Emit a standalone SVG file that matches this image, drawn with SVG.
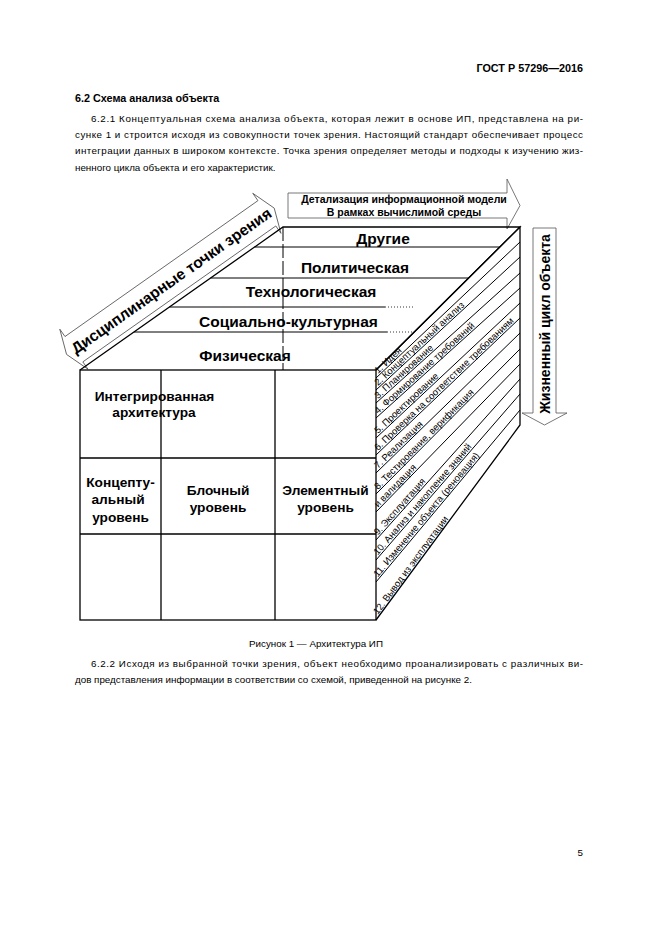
<svg xmlns="http://www.w3.org/2000/svg" width="661" height="935" viewBox="0 0 661 935">
<style>
text{font-family:"Liberation Sans",Arial,sans-serif;fill:#000}
.p{font-size:9.8px}
.hb{font-size:10.8px;font-weight:bold}
.b155{font-size:15.5px;font-weight:bold}
.b137{font-size:13.7px;font-weight:bold}
.b105{font-size:10.5px;font-weight:bold}
.b14{font-size:14px;font-weight:bold}
.h{font-size:9.5px}
.arrow{fill:#fff;stroke:#555;stroke-width:0.8}
.edge{stroke:#000;stroke-width:1.3;fill:none}
.thin{stroke:#000;stroke-width:1;fill:none}
.dot{stroke:#000;stroke-width:0.8;stroke-dasharray:1 2;fill:none}
</style>
<rect width="661" height="935" fill="#fff"/>

<g id="page-header">
<text x="583" y="72" class="hb" text-anchor="end">ГОСТ Р 57296—2016</text>
<text x="75" y="102" class="hb">6.2 Схема анализа объекта</text>
</g>

<g id="paragraph-621">
<text x="91" y="121.5" class="p" textLength="492">6.2.1 Концептуальная схема анализа объекта, которая лежит в основе ИП, представлена на ри-</text>
<text x="75" y="137.8" class="p" textLength="508">сунке 1 и строится исходя из совокупности точек зрения. Настоящий стандарт обеспечивает процесс</text>
<text x="75" y="154.3" class="p" textLength="508">интеграции данных в широком контексте. Точка зрения определяет методы и подходы к изучению жиз-</text>
<text x="75" y="170.7" class="p">ненного цикла объекта и его характеристик.</text>
</g>

<g id="figure-1">
<g id="arrow-disciplinary" transform="translate(80,370) rotate(-35.16)">
<polygon class="arrow" points="-2,-20.5 7,4 7,-5 243,-5 243,4 252,-20.5 243,-45 243,-36 7,-36 7,-45"/>
<text x="126" y="-15" class="b155" text-anchor="middle">Дисциплинарные точки зрения</text>
</g>

<g id="arrow-detail">
<polygon class="arrow" points="288,193 507,193 507,179 520,205.5 507,229 507,218 288,218"/>
<text x="404" y="203" class="b105" text-anchor="middle">Детализация информационной модели</text>
<text x="404" y="215.5" class="b105" text-anchor="middle">В рамках вычислимой среды</text>
</g>

<g id="arrow-lifecycle">
<polygon class="arrow" points="533,228 556,228 556,413 567,413 544.5,425 522,413 533,413"/>
<text transform="translate(549.5,324) rotate(-90)" class="b14" text-anchor="middle">Жизненный цикл объекта</text>
</g>

<g id="cube-top">
<polyline class="edge" points="80,370 283,227 520,227 376,370"/>
<line class="thin" x1="283" y1="227" x2="283" y2="370" stroke-dasharray="14 3"/>
<line class="thin" x1="254.6" y1="247" x2="499.9" y2="247"/>
<line class="thin" x1="210.6" y1="278" x2="468.6" y2="278"/>
<line class="thin" x1="169.4" y1="307" x2="385" y2="307"/>
<line class="dot" x1="385" y1="307" x2="415" y2="307"/>
<line class="thin" x1="133.9" y1="332" x2="387" y2="332"/>
<line class="dot" x1="387" y1="332" x2="414" y2="332"/>
<text x="383" y="243.5" class="b155" text-anchor="middle">Другие</text>
<text x="355" y="272.5" class="b155" text-anchor="middle">Политическая</text>
<text x="311" y="296.5" class="b155" text-anchor="middle">Технологическая</text>
<text x="288.5" y="326.5" class="b155" text-anchor="middle">Социально-культурная</text>
<text x="245" y="361" class="b155" text-anchor="middle">Физическая</text>
</g>

<g id="cube-front">
<rect class="edge" x="80" y="370" width="296" height="250"/>
<line class="edge" x1="161" y1="370" x2="161" y2="620"/>
<line class="edge" x1="275" y1="370" x2="275" y2="620"/>
<line class="edge" x1="80" y1="458" x2="376" y2="458"/>
<line class="edge" x1="80" y1="534" x2="376" y2="534"/>
<text x="154.5" y="401.4" class="b137" text-anchor="middle">Интегрированная</text>
<text x="154" y="417.3" class="b137" text-anchor="middle">архитектура</text>
<text x="120.5" y="486.7" class="b137" text-anchor="middle">Концепту-</text>
<text x="118" y="504.2" class="b137" text-anchor="middle">альный</text>
<text x="120.5" y="521.7" class="b137" text-anchor="middle">уровень</text>
<text x="218" y="494.7" class="b137" text-anchor="middle">Блочный</text>
<text x="218" y="512.4" class="b137" text-anchor="middle">уровень</text>
<text x="325.5" y="494.7" class="b137" text-anchor="middle">Элементный</text>
<text x="325.5" y="512.4" class="b137" text-anchor="middle">уровень</text>
</g>

<g id="cube-side">
<polyline class="edge" points="376,370 520,227 520,425 376,620"/>
<line class="thin" x1="376" y1="378" x2="520" y2="242"/>
<line class="thin" x1="376" y1="390" x2="520" y2="257"/>
<line class="thin" x1="376" y1="403" x2="520" y2="273"/>
<line class="thin" x1="376" y1="418" x2="520" y2="288"/>
<line class="thin" x1="376" y1="438" x2="520" y2="303"/>
<line class="thin" x1="376" y1="455" x2="520" y2="318"/>
<line class="thin" x1="376" y1="473" x2="520" y2="333"/>
<line class="thin" x1="376" y1="494" x2="520" y2="349"/>
<line class="thin" x1="376" y1="512" x2="520" y2="364"/>
<line class="thin" x1="376" y1="540" x2="520" y2="379"/>
<line class="thin" x1="376" y1="560" x2="520" y2="394"/>
<line class="thin" x1="376" y1="582" x2="520" y2="410"/>
<text class="h" transform="translate(379,375.2) rotate(-43.36)" y="-1.5">1. Идея</text>
<text class="h" transform="translate(379,387.2) rotate(-42.72)" y="-1.5">2. Концептуальный анализ</text>
<text class="h" transform="translate(379,400.3) rotate(-42.07)" y="-1.5">3. Планирование</text>
<text class="h" transform="translate(379,415.3) rotate(-42.07)" y="-1.5">4. Формирование требований</text>
<text class="h" transform="translate(379,435.2) rotate(-43.15)" y="-1.5">5. Проектирование</text>
<text class="h" transform="translate(379,452.1) rotate(-43.57)" y="-1.5">6. Проверка на соответствие требованиям</text>
<text class="h" transform="translate(379,470.1) rotate(-44.19)" y="-1.5">7. Реализация</text>
<text class="h" transform="translate(379,491) rotate(-45.2)" y="-1.5">8. Тестирование, верификация</text>
<text class="h" transform="translate(379,508.9) rotate(-45.78)" y="-1.5">и валидация</text>
<text class="h" transform="translate(379,536.6) rotate(-48.19)" y="-1.5">9. Эксплуатация</text>
<text class="h" transform="translate(379,556.5) rotate(-49.06)" y="-1.5">10. Анализ и накопление знаний</text>
<text class="h" transform="translate(379,578.4) rotate(-50.06)" y="-1.5">11. Изменение объекта (реновация)</text>
<text class="h" transform="translate(379,615.9) rotate(-53.56)" y="-1.5">12. Вывод из эксплуатации</text>
</g>
</g>

<g id="caption">
<text x="316" y="647" class="p" text-anchor="middle">Рисунок 1 — Архитектура ИП</text>
</g>

<g id="paragraph-622">
<text x="91" y="667" class="p" textLength="492">6.2.2 Исходя из выбранной точки зрения, объект необходимо проанализировать с различных ви-</text>
<text x="75" y="683" class="p">дов представления информации в соответствии со схемой, приведенной на рисунке 2.</text>
</g>

<g id="page-number">
<text x="583" y="856" class="p" text-anchor="end">5</text>
</g>
</svg>
